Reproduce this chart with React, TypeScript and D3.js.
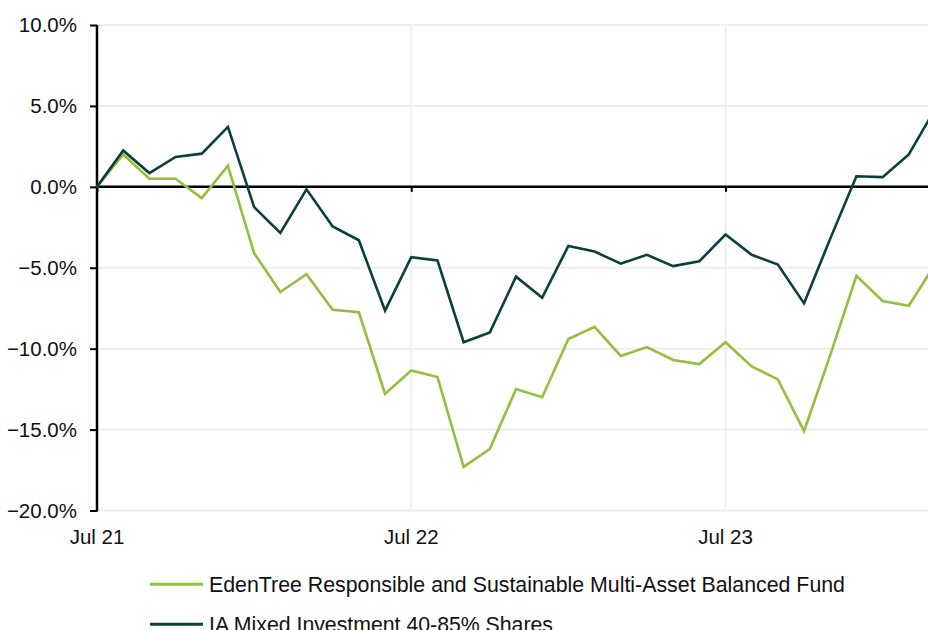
import React, { useEffect, useRef } from 'react';
import * as d3 from 'd3';

// Monthly cumulative performance (%), Jul 21 onwards
const months = d3.range(0, 33);
const fund = [0, 2.0, 0.5, 0.5, -0.7, 1.3, -4.1, -6.5, -5.4, -7.6, -7.75, -12.8, -11.35, -11.75, -17.3, -16.2, -12.5, -13.0, -9.4, -8.65, -10.45, -9.9, -10.7, -10.95, -9.6, -11.1, -11.9, -15.1, -10.4, -5.5, -7.05, -7.35, -4.8];
const sector = [0, 2.25, 0.85, 1.85, 2.05, 3.7, -1.25, -2.85, -0.15, -2.45, -3.3, -7.65, -4.35, -4.55, -9.6, -9.0, -5.55, -6.85, -3.65, -4.0, -4.75, -4.2, -4.9, -4.6, -2.95, -4.2, -4.8, -7.2, -3.2, 0.65, 0.6, 2.0, 4.8];
const xTicks = [0, 12, 24];
const xTickLabels = ['Jul 21', 'Jul 22', 'Jul 23'];
const yTicks = [10, 5, 0, -5, -10, -15, -20];
const seriesNames = ['EdenTree Responsible and Sustainable Multi-Asset Balanced Fund', 'IA Mixed Investment 40-85% Shares'];
const seriesColors = ['#93bf3c', '#0b3f3b'];

const App = () => {
  const ref = useRef(null);

  useEffect(() => {
    const svg = d3.select(ref.current);
    svg.selectAll('*').remove();

    const width = 928;
    const height = 630;
    const font = 'Arial, "Liberation Sans", sans-serif';

    const x = d3.scaleLinear().domain([0, 32]).range([97, 935]);
    const y = d3.scaleLinear().domain([-20, 10]).range([510.5, 25]);

    svg.attr('width', width).attr('height', height);

    // gridlines
    const grid = svg.append('g').attr('stroke', '#efefef').attr('stroke-width', 2);
    grid.selectAll('line.h')
      .data(yTicks)
      .join('line')
      .attr('x1', x(0)).attr('x2', width)
      .attr('y1', d => y(d)).attr('y2', d => y(d));
    grid.selectAll('line.v')
      .data(xTicks.filter(d => d > 0))
      .join('line')
      .attr('class', 'v')
      .attr('x1', d => x(d)).attr('x2', d => x(d))
      .attr('y1', y(10)).attr('y2', y(-20));

    // y axis
    const yAxis = svg.append('g')
      .attr('transform', `translate(${x(0)},0)`)
      .call(d3.axisLeft(y).tickValues(yTicks).tickSize(7).tickPadding(13).tickFormat(d => `${d3.format('.1f')(d)}%`));
    yAxis.select('.domain').attr('stroke', '#000').attr('stroke-width', 2.5).attr('d', `M0,${y(10)}V${y(-20) + 1}`);
    yAxis.selectAll('.tick line').attr('stroke', '#000').attr('stroke-width', 2);
    yAxis.selectAll('.tick text')
      .attr('fill', '#111')
      .style('font-family', font)
      .style('font-size', '20.5px');

    // zero line with month ticks
    const xAxis = svg.append('g')
      .attr('transform', `translate(0,${y(0)})`)
      .call(d3.axisBottom(x).tickValues(xTicks).tickSize(5).tickFormat(() => ''));
    xAxis.select('.domain').attr('stroke', '#000').attr('stroke-width', 2.5).attr('d', `M${x(0)},0H${width}`);
    xAxis.selectAll('.tick line').attr('stroke', '#000').attr('stroke-width', 2);

    svg.append('g')
      .selectAll('text')
      .data(xTicks)
      .join('text')
      .attr('x', d => x(d))
      .attr('y', 543.5)
      .attr('text-anchor', 'middle')
      .attr('fill', '#111')
      .style('font-family', font)
      .style('font-size', '20.5px')
      .text((d, i) => xTickLabels[i]);

    // lines
    const line = d3.line().x((d, i) => x(months[i])).y(d => y(d));
    [fund, sector].forEach((vals, i) => {
      svg.append('path')
        .datum(vals)
        .attr('fill', 'none')
        .attr('stroke', seriesColors[i])
        .attr('stroke-width', 2.6)
        .attr('stroke-linejoin', 'miter')
        .attr('d', line);
    });

    // legend
    const legendY = [584.3, 624.3];
    const legendLen = [636, 344];
    const legend = svg.append('g');
    seriesNames.forEach((name, i) => {
      legend.append('line')
        .attr('x1', 150).attr('x2', 203)
        .attr('y1', legendY[i]).attr('y2', legendY[i])
        .attr('stroke', seriesColors[i])
        .attr('stroke-width', 3);
      legend.append('text')
        .attr('x', 209)
        .attr('y', legendY[i] + 7.6)
        .attr('fill', '#111')
        .attr('textLength', legendLen[i])
        .attr('lengthAdjust', 'spacingAndGlyphs')
        .style('font-family', font)
        .style('font-size', '22.5px')
        .text(name);
    });
  }, []);

  return <svg ref={ref} style={{ position: 'absolute', left: 0, top: 0, background: '#fff' }}></svg>;
};

export default App;
